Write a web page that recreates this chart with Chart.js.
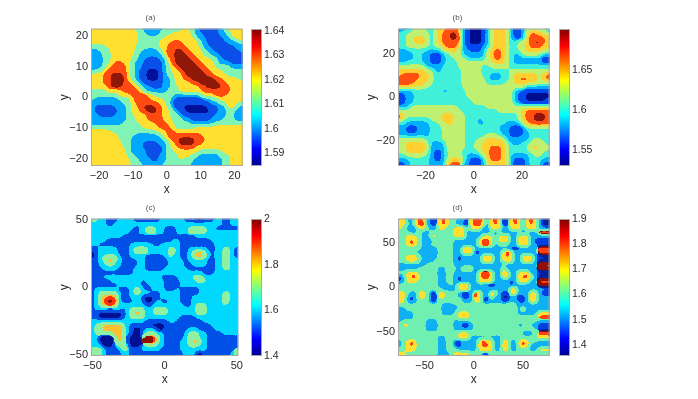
<!DOCTYPE html>
<html>
<head>
<meta charset="utf-8">
<script src="https://cdn.jsdelivr.net/npm/chart.js@4"></script>
<style>
  html, body { margin: 0; padding: 0; background: #fff; }
  body { width: 698px; height: 399px; position: relative; overflow: hidden; }
  .box { position: absolute; filter: blur(0.5px); }
</style>
</head>
<body>
<script>
// contour band of each cell, row by row from the top of the panel (spaces are only for reading)
const cellsA = [
  "44444444444 33 22222 33333 44 3 2 11111 2 33 444",
  "444444444444 33 222 333 44444 3 22 1111 22 3 444",
  "444444444444 333333 44444444 3 22 1111 22 3 44",
  "444444444444 33333 444 555 4444 3 2 11111 222 3",
  "3333 4444444 333333 44 55555 444 3 22 111111 22",
  "22 333 444444 33 2222 3 4 55 66 55 444 3 22 111111 2",
  "222 33 444444 3 222222 4 55 666 55 44 33 22 111111",
  "222 33 44444 33 22 111 22 4 5 6666 55 444 33 2 11111",
  "222 33 4 55 44 3 22 11111 2 4 5 66666 55 444 3 222 111",
  "222 3 4 5555 4 3 22 11111 2 3 4 5 66666 55 44 3333 222",
  "2 33 4 55555 4 3 2 11 000 1 2 3 44 5 66666 55 444 33333",
  "444 55 666 5 4 3 2 11 000 1 2 33 44 5 66666 55 444 3333",
  "444 55 6666 4 3 2 11 000 1 22 3 44 55 666666 55 4444 3",
  "444 55 666 55 4 3 2 11111 22 3 4444 55 66666 55 4444",
  "4444 5 666 555 4 3 22 111 22 33 44444 55 6666 55 444",
  "3333 4444 5555 4 3 22222 333 444444 5555555 444",
  "3333333 444 5555 44 33333 222222 3 444 555 4444",
  "3 222222 333 4 5555 444 33 2 1111111 22 33 444444",
  "22222222 33 4 555555 44 3 1111111111 22 33 444 3",
  "2 11111 222 3 44 5 666 55 4 3 2 11 000000 111 22 44 3 2",
  "2 111111 22 3 44 55 666 5 44 3 2 11 000000 11 22 33 22",
  "22 1111 222 33 444 5555 44 33 2 11111111 222 33 22",
  "222222222 33 444 5555 44 333 22 11111 222 333 22",
  "22222222 3333 4444 555 44 3333 222222 3333333",
  "3333333333333 4444 555 4 33333 444444444444",
  "44444 33333333333 444 55 44444444444444444",
  "4444444 3333 222222 3 4 555555555 4444444444",
  "4444444 333 22222222 3 4 55 6666 555 444444444",
  "44444444 33 222 1111 22 3 4 5 6666 55 4444444444",
  "44444444 33 222 11111 2 3 44 5555 444444444444",
  "444444444 3 2222 1111 2 33 444444 333333 44444",
  "444444444 33 222 111 22 333 444 33 22222 333 444",
  "4444444444 33 222 11 22 333 4 333 2222222 33 444",
  "4444444444 333 22222 3333333 22222222 33 444"
];
const cellsB = [
  "222 3 444 33 4 55 666 5 2 1 000 1 2 4 555 4 2 11 2 44444 2",
  "33 444444 3 4 5 66 77 5 2 1 000 1 2 4 555 4 2 11 2 5 66 55 4",
  "33 44 555 4 3 4 5 66 77 6 2 1 000 1 2 4 555 4 2 11 2 5 6666 5",
  "33 44 555 4 3 4 5 6666 5 2 1 000 1 2 4 555 4 33 44 5 6 77 6 5",
  "33 444444 3 44 5 666 5 2 1111 22 4 555 4 33 44 5 666 55",
  "222 3333 2222 4 555 4 22 111 2 4 5 66 5 4 33 44 55555 4",
  "2222 33 22 111 2 3 444 222222 4 5 66 5 4 3 22 44444 22",
  "2222 33 22 111 2 33 444 3 222 3 4 5 66 5 4 3 2222222 11",
  "22 3333 22 111 2 333 44444444 4 555 4 3 2222222 11",
  "4444444 2222 3333 444444 33 44444 3333333333",
  "5555555 44 22 33333 44444 3333333 4444444444",
  "5 66666 55 4 3333333 44444 33 222 33 4 555555 4 5 6",
  "66666 555 4 3333333 444444 3 222 33 4 5 666 55 4 5 6",
  "6666 555 44 3333333 444444 33333 44 555555 444",
  "555555 44 33333333 4444444444444444 222222",
  "2222 3333333 22 3333 444444444444 22 1111111",
  "11 22 3333333333333 444444444444 2 11 000000",
  "11 22 33333333333333 44444444444 2 11 00000 1",
  "11 22 333333333333333 4444444444 22 1111111",
  "222 444444444444 3333333 4444444444444444",
  "4444444444444444 333333333 444444 5 666666",
  "6 5 444444444 555 444 3333333333333 4 5 66 777 6",
  "6 4 333333 444 555 444 333 2 333333333 4 5 66 777 6",
  "33 222222 33 44 55 444 333 22 33333 2222 4 5 66666",
  "22 111 222 333 444444 33333333 222 111 2 444444",
  "22 111 222 333 444444 333333333 22 1111 2 33333",
  "22222222 333 444444 33333 444 3 22 111 22 33333",
  "4444444 3333 444444 333 44 55555 222222 3 44 33",
  "44 55555 4 2222 44444 33 44 555555 4 222 33 4444 3",
  "44 55 6 55 4 2222 44444 33 44 55 666 5 4 3333 4 555 44",
  "44 55555 4 2 11 2 4444 3333 4 55 666 5 4 33333 4444 3",
  "33 44444 3 2 11 2 3 444 3 2222 4 5 666 5 4 22222 3 44 33",
  "222 33333 2 11 2 4 555 4 2 111 2 5 666 5 4 2 111 2 333 22",
  "11 2 33333 2222 5 666 22 1 0 1 2 4 5555 4 2 111 2 333 11"
];
const cellsC = [
  "33 22 111 2222 1111111 222222 111 00 111 22 11 22",
  "2222 11 2222222222222222222222222222 11 22",
  "22222222222 11 2 333 22 111 222 33333 22 111111",
  "2222222 3 22 11 22 333 22 111 222 33333 22222222",
  "22222222 1111111111111111111 22222222222",
  "2222 11111111111111111 22 11111111 2222222",
  "22 11111111 222222 11 22222 11 0 111111 222222",
  "11 22222 111 2 3333 22222 33 2 11 22222 11 22 33 2 1",
  "0 1 22222 111 2 3333 22222 33 2 11 2 3 44 3 2 1 22 33 2 1",
  "0 1 2 3333 2 11 2222 11111 2 3 22 11 2 3 44 3 2 1 22 33 2 1",
  "11 2 3 44 3 2 1111 22 111111 2222 1 22222 11 22 33 22",
  "11 22 33 22 1111 22 111111 2222 1 0 2222 1 0 22 33 22",
  "111 2222 1111 222 11111 222222 1111111 22 33 22",
  "11111111111 222222222222222222 111 222222",
  "111 222222222222 3 22 1111 2222 333 22222222",
  "11111 22222222 1 22 3 22 1111 2222 333 22222222",
  "1111111 222222 11 2222 1111 222222222222222",
  "1 222222 111 2 33 2 11 222 111 2 11111 2222222222",
  "1 2 33333 2 11 2 33 222 11 222 3 2 11111 222222 33 22",
  "1 2 3 4 55 4 2 11 222 1 00 1 1 22222 111 22222222 33 22",
  "1 2 3 5 66 5 2 111 22 1 00 1 2 11 222 111 22222222 33 22",
  "1 2 3 4 55 4 2 222222 11 2222 1 222 11 2 333 2222 3 222",
  "1 2222222 1 2 3333 22 3333 2222222 333 22222222",
  "11 000000 1 2 3 44 3 22 3333 2222222 333 22222222",
  "11 000000 1 2 3333 222222222 1111 22222222222",
  "22222222222222 111111 22 1111111 222222222",
  "2 33 44444 3 2 11111 0000 111111111111 2222222",
  "2 33 44444 3 2 1 00 1 222 00 111111 222 1111 22 3 222",
  "2 33333 44 3 2 1 00 2 333 22 11111 2 333 22 1111 2222",
  "22 0000 3 4 3 1 000 3 66 5 3 2 11111 2 333 22 11111111",
  "22 0000 3 4 3 1 000 5 66 5 3 2 1111 22 3 44 3 2 11111111",
  "222 000 2 33 2 000 2 333 22 1111 22 333 22 11111111",
  "333 2 111 2 33 111 22222 11111 2222222 1111111 3",
  "333 2 1111 22 11111111111111 222 00 1111111 2 3"
];
const cellsD = [
  "44 22 4 5 4 2 11 4 5 4 33 22 1 4 55 4 1 4 5 4 11 4 5 4 1 4 5 4 2 00",
  "44 3 2 4 55 2 11 4 5 4 3 22 11 4 6 5 4 1 4 5 4 11 4 5 4 1 4 5 4 2 00",
  "4 3 2 0 2 44 3 22 44 33 444 2 444 2 1 444 22 444 2 444 222",
  "333 22 3 22 333333 4 5 4 222222222222222222 555",
  "33 444 3 22 44 3333 444 2222 444 2 444 22 444 22 222",
  "33 4 5 4 3 2 1 2 33333 222222 4 55 4 2 444 22 4 5 4 2 1111",
  "33 4 5 4 3 22 333333 2 1 2 222 4 55 4 2 333 22 444 22 111",
  "333333 2222 3333 22 4 5 4 222222222 111 2222 555",
  "3333 222222 3333 22 444 11 22222 4 5 4 222222 555",
  "33 444 3 2222 3333 2 1 2 2222 444 22 4 5 4 22 444 2 111",
  "33 444 3 222 33333 2 1 2 2222 4 5 4 22 444 22 444 2 000",
  "2222222 3333333 222222222222222222222 555",
  "22222 33333 22 333 2 4 5 4 1 222222 4 22222222 666",
  "33 444 33333 22 33 22222 1 4 55 4 22 44 22 444 22 111",
  "1 2 4 55 4 3333 22 33 2 1 2 222 4 66 4 22 5 4 22 4 55 4 2 000",
  "1 2 444 333 4 3 22 33 2 1 2 222 4444 2222 1 2 444 22 555",
  "3333333333 222 3 2 4 5 4 2222 111 222 1 222222 666",
  "33333333333 2222 444 2222222222 44 22222222",
  "44 3 22 44 3 11 44 333 2 11 2 5 4 22 5 4 2 11 4 5 222 44 2 00",
  "44 2 1 2 44 3 11 44 333 2 11 2 5 4 2 1 4 2 2 00 22 11 2 5 4 222",
  "44 2 1 2 333 11 3333 44 222 44 11 222 11 22 11 2 44 222",
  "33333333333 2222 3333333333333 4 3 22222222",
  "22 333333333 2222 333333333333333 2 4 222222",
  "2222 3333333 222 3 444 333333333333 22222 444",
  "2222 33333333333 444 33333333333333333 555",
  "2 333333 222 3333 2222 33333333333333333 222",
  "3 44 3333 222 3333 22 00 2 3 4 333333333 22 4 22 111",
  "3333333 222 3333 22222 3333333333333333 111",
  "333333333333333 444 3333333333333 2 1 2 3 555",
  "3333333333 22 333 444 22222222 333333333 444",
  "2 3 4 5 4 2 3333 22 33 11 2 222 4 5 4 4 2 2 44 22 4 5 4 3 3 222",
  "2 3 4 5 4 2 3333 22 33 11 2 222 4 55 4 22 44 22 4 5 4 2 11 22",
  "33 444 2 33 4 3 22 333 22222 4444 22 44 22 333 22 444",
  "44 33333333 222 3 4444 333 11 333333333333333"
];

const paletteA = ["#00109a", "#0a50e8", "#00a8ff", "#80f4b4", "#ffe030", "#ff4a10", "#901808"];
const paletteB = ["#000c90", "#0048f0", "#00b0ff", "#40f0d8", "#c0f070", "#ffd030", "#ff5010", "#901408"];
const paletteC = ["#001090", "#0050e8", "#00d8ff", "#90f0a0", "#ffc030", "#ff3010", "#901008"];
const paletteD = ["#002098", "#0040e0", "#10b0f4", "#70f0b0", "#ffe030", "#ff4010", "#901008"];

const ticksA = [-20, -10, 0, 10, 20];
const ticksB = [-20, 0, 20];
const ticksC = [-50, 0, 50];
const ticksD = [-50, 0, 50];

const barTicksA = [1.59, 1.6, 1.61, 1.62, 1.63, 1.64];
const barTicksB = [1.55, 1.6, 1.65];
const barTicksC = [1.4, 1.6, 1.8, 2];
const barTicksD = [1.4, 1.5, 1.6, 1.7, 1.8, 1.9];

const fontFamily = "'Liberation Sans', Arial, sans-serif";
const textColor = "#2a2a2a";
const lineColor = "#a8a8a8";
const cols = 38;

const makeCanvas = (left, top, width, height) => {
    const box = document.createElement("div");
    box.className = "box";
    box.style.cssText = `left:${left}px;top:${top}px;width:${width}px;height:${height}px`;
    const canvas = document.createElement("canvas");
    box.appendChild(canvas);
    document.body.appendChild(box);
    return canvas;
};

// Grey frame on all four sides
const framePlugin = {
    id: "frame",
    afterDatasetsDraw(chart) {
        const { ctx, chartArea: a } = chart;
        ctx.save();
        ctx.strokeStyle = lineColor;
        ctx.lineWidth = 1;
        ctx.strokeRect(a.left + 0.5, a.top + 0.5, a.right - a.left - 1, a.bottom - a.top - 1);
        ctx.restore();
    },
};

// Rounds the cell edges off: blur the plot area, then snap each pixel back to its nearest band colour
const contourPlugin = (palette, sigma) => {
    const rgb = palette.map((hex) => [1, 3, 5].map((i) => parseInt(hex.slice(i, i + 2), 16)));
    return {
        id: "contour",
        afterDatasetsDraw(chart) {
            const { ctx, chartArea: a, canvas } = chart;
            const x = Math.round(a.left), y = Math.round(a.top);
            const w = Math.round(a.right - a.left), h = Math.round(a.bottom - a.top);
            const crop = document.createElement("canvas");
            crop.width = w;
            crop.height = h;
            crop.getContext("2d").drawImage(canvas, x, y, w, h, 0, 0, w, h);
            const soft = document.createElement("canvas");
            soft.width = w;
            soft.height = h;
            const softCtx = soft.getContext("2d");
            softCtx.filter = `blur(${sigma}px)`;
            softCtx.drawImage(crop, 0, 0);
            const img = softCtx.getImageData(0, 0, w, h);
            const d = img.data;
            for (let i = 0; i < d.length; i += 4) {
                let best = 0, bestDist = Infinity;
                rgb.forEach((c, k) => {
                    const dist = (c[0] - d[i]) ** 2 + (c[1] - d[i + 1]) ** 2 + (c[2] - d[i + 2]) ** 2;
                    if (dist < bestDist) { bestDist = dist; best = k; }
                });
                d[i] = rgb[best][0];
                d[i + 1] = rgb[best][1];
                d[i + 2] = rgb[best][2];
                d[i + 3] = 255;
            }
            ctx.putImageData(img, x, y);
        },
    };
};

const minusLabel = (v) => String(v).replace("-", "\u2212");

const axisOpts = (limit, ticks, title, side, size) => ({
    type: "linear",
    min: -limit,
    max: limit,
    border: { display: false },
    grid: { display: false, drawTicks: false, tickLength: 0 },
    afterBuildTicks: (axis) => { axis.ticks = ticks.map((value) => ({ value })); },
    afterFit: (axis) => { if (side === "y") axis.width = size; else axis.height = size; },
    ticks: {
        padding: 3,
        maxRotation: 0,
        autoSkip: false,
        color: textColor,
        font: { family: fontFamily, size: 11 },
        callback: minusLabel,
    },
    title: {
        display: true,
        text: title,
        color: textColor,
        padding: 0,
        font: { family: fontFamily, size: 12 },
    },
});

const drawPanel = (name, rows, palette, limit, ticks, left, top, sigma) => {
    const points = [];
    const cellW = (2 * limit) / cols;
    const cellH = (2 * limit) / rows.length;
    rows.forEach((row, r) => {
        const line = row.replace(/ /g, "").padEnd(cols, row.slice(-1));
        for (let c = 0; c < cols; c++) {
            points.push({
                x: -limit + (c + 0.5) * cellW,
                y: limit - (r + 0.5) * cellH,
                band: Number(line[c]),
            });
        }
    });

    new Chart(makeCanvas(left, top, 189, 197), {
        type: "scatter",
        data: {
            datasets: [{
                data: points,
                pointStyle: "rect",
                pointRadius: 3.4,
                pointHoverRadius: 3.4,
                pointBorderWidth: 0,
                backgroundColor: (ctx) => palette[ctx.raw ? ctx.raw.band : 0],
            }],
        },
        options: {
            responsive: true,
            maintainAspectRatio: false,
            animation: false,
            events: [],
            layout: { padding: { right: 2 } },
            plugins: {
                legend: { display: false },
                tooltip: { enabled: false },
                title: {
                    display: true,
                    text: name,
                    color: "#555",
                    font: { family: fontFamily, size: 8, weight: "normal" },
                    padding: { top: 13, bottom: 6 },
                },
            },
            scales: {
                x: axisOpts(limit, ticks, "x", "x", 31),
                y: axisOpts(limit, ticks, "y", "y", 34),
            },
        },
        plugins: [contourPlugin(palette, sigma), framePlugin],
    });
};

// MATLAB jet along the colour bar
const jetStops = [
    [0, "#00008f"], [0.125, "#0000ff"], [0.375, "#00ffff"],
    [0.625, "#ffff00"], [0.875, "#ff0000"], [1, "#800000"],
];

const drawBar = (range, ticks, left, top) => {
    new Chart(makeCanvas(left, top, 50, 195), {
        type: "bar",
        data: {
            labels: [""],
            datasets: [{
                data: [range],
                barPercentage: 1,
                categoryPercentage: 1,
                backgroundColor: (ctx) => {
                    const a = ctx.chart.chartArea;
                    if (!a) return "#00f";
                    const grad = ctx.chart.ctx.createLinearGradient(0, a.bottom, 0, a.top);
                    jetStops.forEach(([at, color]) => grad.addColorStop(at, color));
                    return grad;
                },
            }],
        },
        options: {
            responsive: true,
            maintainAspectRatio: false,
            animation: false,
            events: [],
            layout: { padding: { top: 29, bottom: 29 } },
            plugins: { legend: { display: false }, tooltip: { enabled: false } },
            scales: {
                x: { display: false },
                y: {
                    position: "right",
                    min: range[0],
                    max: range[1],
                    border: { display: false },
                    grid: { display: false, drawTicks: false, tickLength: 0 },
                    afterBuildTicks: (axis) => { axis.ticks = ticks.map((value) => ({ value })); },
                    afterFit: (axis) => { axis.width = 39; },
                    ticks: {
                        padding: 2,
                        color: textColor,
                        font: { family: fontFamily, size: 10.5 },
                        callback: (v) => String(v),
                    },
                },
            },
        },
        plugins: [framePlugin],
    });
};

drawPanel("(a)", cellsA, paletteA, 22.4, ticksA, 57, 0, 2.6);
drawPanel("(b)", cellsB, paletteB, 31.4, ticksB, 364, 0, 2.4);
drawPanel("(c)", cellsC, paletteC, 51, ticksC, 57, 190, 2.2);
drawPanel("(d)", cellsD, paletteD, 77, ticksD, 364, 190, 1.9);

drawBar([1.5847, 1.6408], barTicksA, 251, 0);
drawBar([1.53, 1.7013], barTicksB, 559, 0);
drawBar([1.4, 2], barTicksC, 251, 190);
drawBar([1.356, 1.9], barTicksD, 559, 190);
</script>
</body>
</html>
